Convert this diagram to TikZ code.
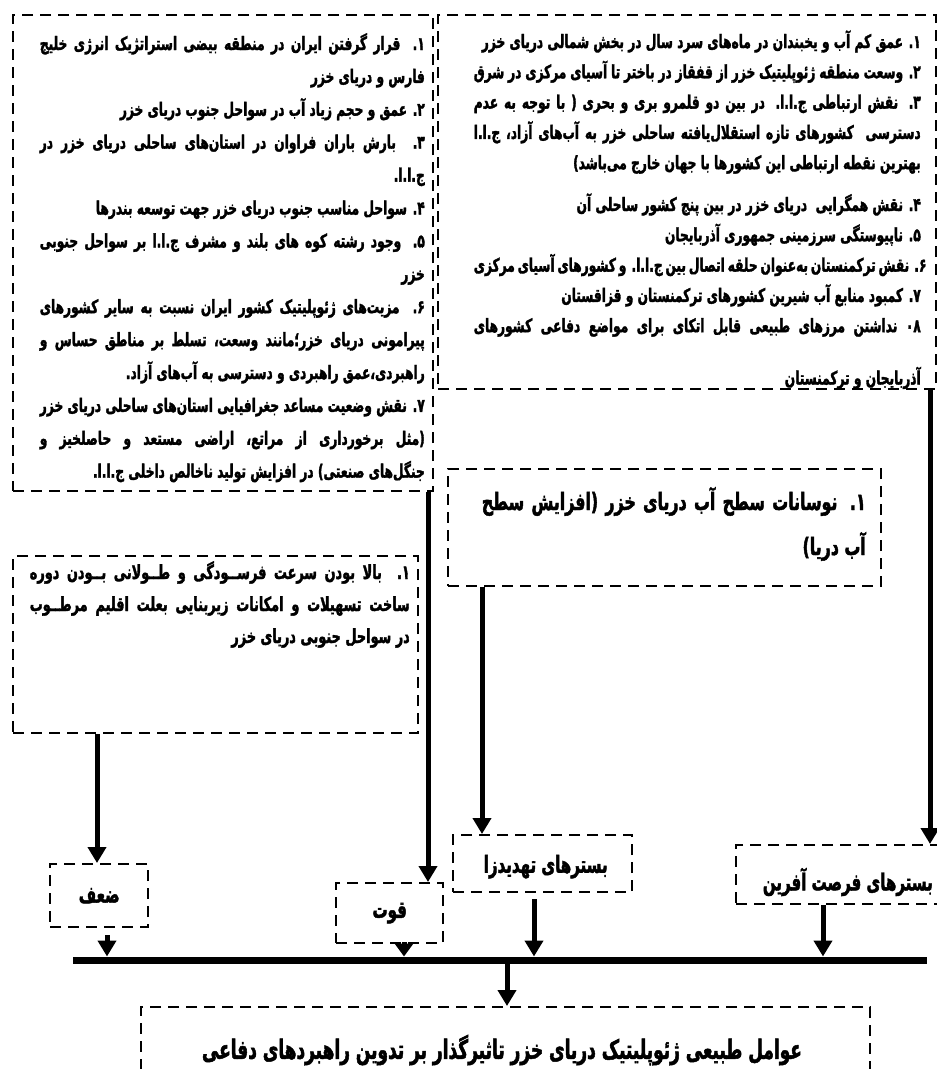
\documentclass[tikz,border=0pt]{standalone}
\usepackage{fontspec}
\usetikzlibrary{arrows.meta}
\TeXXeTstate=1
\newfontfamily\fa[Script=Arabic,FakeStretch=0.66,BoldFeatures={FakeBold=1.8}]{DejaVu Sans}
\newfontfamily\fc[Script=Arabic,FakeStretch=0.64,BoldFeatures={FakeBold=1.8}]{DejaVu Sans}
\newcommand\RL[1]{\hbox to\hsize{\hfil\beginR #1\endR}}
\newcommand\JL[1]{\hbox to\hsize{\beginR #1\endR}}
\newcommand\Blk[3]{\vtop{\hsize=#1\relax\baselineskip=#2\relax\lineskiplimit=-100pt\lineskip=0pt #3}}
\newcommand\itm[1]{#1\kern0pt.}
\begin{document}
\begin{tikzpicture}[x=1pt,y=-1pt,
  box/.style={draw, line width=2.4pt, dash pattern=on 11pt off 7pt, inner sep=0pt, anchor=north west},
  arr/.style={line width=5pt, -{Triangle[width=18pt,length=16pt]}},
  txt/.style={inner sep=0pt, anchor=base east},
  lbl/.style={font=\fc\bfseries\fontsize{23.5}{26}\selectfont, inner sep=0pt}]
\useasboundingbox (0,0) rectangle (937,1069);
% boxes
\node[box, minimum width=420pt, minimum height=476pt] (L) at (12,14) {};
\node[box, minimum width=498pt, minimum height=374pt] (R) at (437,14) {};
\node[box, minimum width=405pt, minimum height=177pt] (M) at (12,555) {};
\node[box, minimum width=433pt, minimum height=117pt] (N) at (447,468) {};
\node[box, minimum width=98pt, minimum height=63pt] (Z) at (49,863) {};
\node[box, minimum width=107pt, minimum height=60pt] (Q) at (335,882) {};
\node[box, minimum width=179pt, minimum height=57pt] (T) at (452,834) {};
\node[box, minimum width=226pt, minimum height=59pt] (F) at (735,844) {};
\node[box, minimum width=729pt, minimum height=92pt] (B) at (140,1006) {};
% texts
\node[txt] (tL) at (425,50) {\fa\bfseries\fontsize{18.5}{21}\selectfont\Blk{385pt}{32.9pt}{%
\JL{\itm{۱} قرار گرفتن ایران در منطقه بیضی استراتژیک انرژی خلیج}
\RL{فارس و دریای خزر}
\RL{\itm{۲} عمق و حجم زیاد آب در سواحل جنوب دریای خزر}
\JL{\itm{۳} بارش باران فراوان در استان‌های ساحلی دریای خزر در}
\RL{ج.ا.ا.}
\RL{\itm{۴} سواحل مناسب جنوب دریای خزر جهت توسعه بندرها}
\JL{\itm{۵} وجود رشته کوه های بلند و مشرف ج.ا.ا بر سواحل جنوبی}
\RL{خزر}
\JL{\itm{۶} مزیت‌های ژئوپلیتیک کشور ایران نسبت به سایر کشورهای}
\JL{پیرامونی دریای خزر؛مانند وسعت، تسلط بر مناطق حساس و}
\RL{راهبردی،عمق راهبردی و دسترسی به آب‌های آزاد.}
\JL{\itm{۷} نقش وضعیت مساعد جغرافیایی استان‌های ساحلی دریای خزر}
\JL{(مثل برخورداری از مراتع، اراضی مستعد و حاصلخیز و}
\RL{جنگل‌های صنعتی) در افزایش تولید ناخالص داخلی ج.ا.ا.}}};
\begin{scope}
\clip (R.north west) rectangle (R.south east);
\node[txt] (tR) at (921,48) {\fa\bfseries\fontsize{18.5}{21}\selectfont\Blk{447pt}{30.3pt}{%
\RL{\itm{۱} عمق کم آب و یخبندان در ماه‌های سرد سال در بخش شمالی دریای خزر}
\RL{\itm{۲} وسعت منطقه ژئوپلیتیک خزر از قفقاز در باختر تا آسیای مرکزی در شرق}
\JL{\itm{۳} نقش ارتباطی ج.ا.ا. در بین دو قلمرو بری و بحری ( با توجه به عدم}
\JL{دسترسی\ \ کشورهای تازه استقلال‌یافته ساحلی خزر به آب‌های آزاد، ج.ا.ا}
\RL{بهترین نقطه ارتباطی این کشورها با جهان خارج می‌باشد)}
\vskip11.5pt
\RL{\itm{۴} نقش همگرایی\ \ دریای خزر در بین پنج کشور ساحلی آن}
\RL{\itm{۵} ناپیوستگی سرزمینی جمهوری آذربایجان}
\RL{\itm{۶} نقش ترکمنستان به‌عنوان حلقه اتصال بین ج.ا.ا. و کشورهای آسیای مرکزی}
\RL{\itm{۷} کمبود منابع آب شیرین کشورهای ترکمنستان و قزاقستان}
\JL{۰۸ نداشتن مرزهای طبیعی قابل اتکای برای مواضع دفاعی کشورهای}
\vskip22pt
\RL{آذربایجان و ترکمنستان}}};
\end{scope}
\node[txt] (tM) at (410,579) {\fa\bfseries\fontsize{19.5}{22}\selectfont\Blk{380pt}{32pt}{%
\JL{\itm{۱} بالا بودن سرعت فرســودگی و طــولانی بــودن دوره}
\JL{ساخت تسهیلات و امکانات زیربنایی بعلت اقلیم مرطــوب}
\RL{در سواحل جنوبی دریای خزر\ \ }}};
\node[txt] (tN) at (866,510) {\fa\bfseries\fontsize{24}{27}\selectfont\Blk{384pt}{45pt}{%
\JL{\itm{۱} نوسانات سطح آب دریای خزر (افزایش سطح}
\RL{آب دریا)}}};
\node[lbl] (lZ) at (Z.center) {\beginR ضعف\endR};
\node[lbl] (lQ) at (Q.center) {\beginR قوت\endR};
\node[lbl] (lT) at ([xshift=3pt,yshift=-3pt]T.center) {\beginR بسترهای تهدیدزا\endR};
\node[lbl, anchor=east] (lF) at (933,882) {\beginR بسترهای فرصت آفرین\endR};
\node[lbl, font=\fc\bfseries\fontsize{26.5}{30}\selectfont] (lB) at (502,1050) {\beginR عوامل طبیعی ژئوپلیتیک دریای خزر تاثیرگذار بر تدوین راهبردهای دفاعی\endR};
% bus
\coordinate (busL) at (73,960);
\coordinate (busR) at (927,960);
\draw[line width=7pt] (busL) -- (busR);
% x positions of connectors
\coordinate (xA) at (428,0);
\coordinate (xB) at (930,0);
\coordinate (xC) at (482,0);
\coordinate (xD) at (97,0);
\coordinate (xZ) at (107,0);
\coordinate (xQ) at (404,0);
\coordinate (xT) at (534,0);
\coordinate (xF) at (823,0);
\coordinate (xO) at (507,0);
% connectors
\draw[arr] (L.south -| xA) -- (Q.north -| xA);
\draw[arr] (R.south -| xB) -- (F.north -| xB);
\draw[arr] (N.south -| xC) -- (T.north -| xC);
\draw[arr] (M.south -| xD) -- (Z.north -| xD);
\draw[arr, shorten <=7pt, shorten >=3.5pt] (Z.south -| xZ) -- (busL -| xZ);
\draw[line width=5pt, -{Triangle[width=18pt,length=13pt]}, shorten <=2pt, shorten >=3.5pt] (Q.south -| xQ) -- (busL -| xQ);
\draw[arr, shorten <=6pt, shorten >=3.5pt] (T.south -| xT) -- (busL -| xT);
\draw[arr, shorten >=3.5pt] (F.south -| xF) -- (busL -| xF);
\draw[arr] (busL -| xO) -- (B.north -| xO);
\end{tikzpicture}
\end{document}
